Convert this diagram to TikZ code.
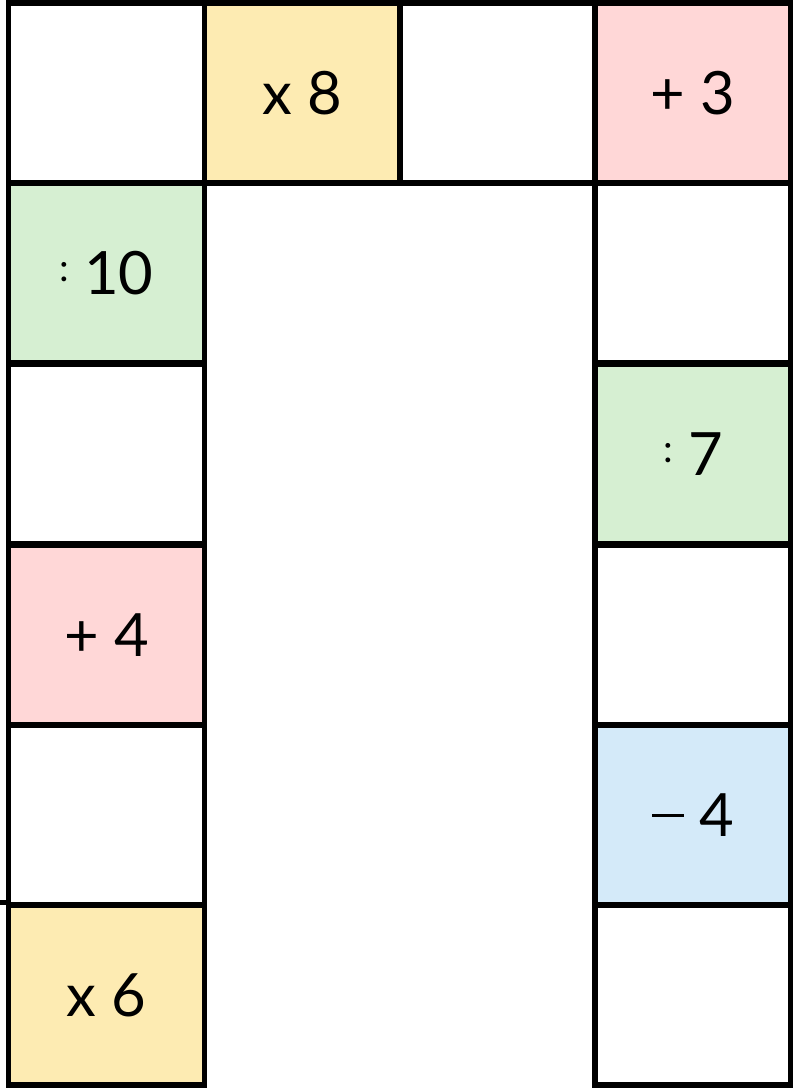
\documentclass[tikz,border=0pt]{standalone}
\usepackage{fontspec}
\setmainfont{Lato}
\definecolor{opyellow}{HTML}{FDEBB2}
\definecolor{oppink}{HTML}{FFD7D7}
\definecolor{opgreen}{HTML}{D6EFD2}
\definecolor{opblue}{HTML}{D4EAF9}
\tikzset{
  cell/.style={draw=black, line width=0.11cm, minimum width=3.92cm, minimum height=3.6cm,
    inner sep=0pt, font=\fontsize{34}{40}\selectfont},
}
\newcommand{\dv}{\raisebox{0.22em}{\fontsize{22}{24}\selectfont :}}
\newcommand{\mn}{\rule[0.33em]{18pt}{1.6pt}}
\begin{document}
\begin{tikzpicture}[x=0.02cm, y=-0.02cm]
\useasboundingbox (0,0) rectangle (793,1088);
% top row
\node[cell] (t1) at (106.5,93) {};
\node[cell, fill=opyellow] (t2) at (302.5,93) {x 8};
\node[cell] (t3) at (498,93) {};
\node[cell, fill=oppink] (t4) at (693,93) {+ 3};
% left column
\node[cell, fill=opgreen] (l1) at (106.5,273) {\dv\ 10};
\node[cell] (l2) at (106.5,454) {};
\node[cell, fill=oppink] (l3) at (106.5,635) {+ 4};
\node[cell] (l4) at (106.5,815) {};
\node[cell, fill=opyellow] (l5) at (106.5,995) {x 6};
% right column
\node[cell] (r1) at (693,273) {};
\node[cell, fill=opgreen] (r2) at (693,454) {\dv\ 7};
\node[cell] (r3) at (693,635) {};
\node[cell, fill=opblue] (r4) at (693,815) {\mn\ 4};
\node[cell] (r5) at (693,995) {};
\draw[line width=0.11cm] (l5.north west) -- ++(-10,0);
\end{tikzpicture}
\end{document}
